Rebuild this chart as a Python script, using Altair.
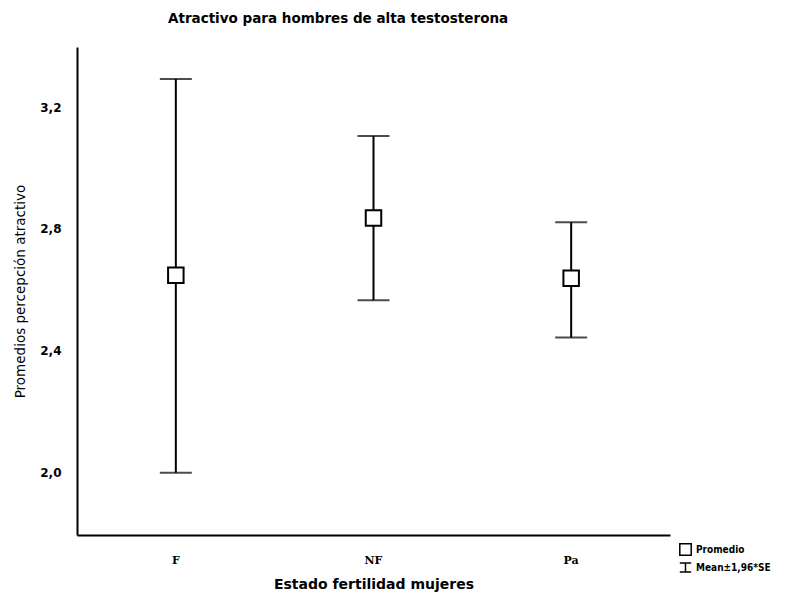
import altair as alt
import pandas as pd

categories = ["F", "NF", "Pa"]
means = [2.648, 2.836, 2.638]
upper = [3.292, 3.105, 2.822]
lower = [2.000, 2.566, 2.444]
legend_labels = ["Promedio", "Mean±1,96*SE"]

df = pd.DataFrame({
    "cat": categories,
    "mean": means,
    "hi": upper,
    "lo": lower,
    "leg": [legend_labels[0]] * len(categories),
})

ydom = [1.796, 3.397]
xenc = alt.X("cat:N", sort=categories,
             scale=alt.Scale(paddingInner=0, paddingOuter=0),
             axis=alt.Axis(title="Estado fertilidad mujeres", labelAngle=0,
                           ticks=False, domainColor="black", domainWidth=2,
                           labelFont="DejaVu Serif", labelFontWeight="bold",
                           labelFontSize=11, labelPadding=19, labelColor="black",
                           titleFont="DejaVu Sans", titleFontSize=14,
                           titleFontWeight="bold", titlePadding=12, titleColor="black"))

yscale = alt.Scale(domain=ydom, nice=False, zero=False)

base = alt.Chart(df)

rules = base.mark_rule(color="black", strokeWidth=2).encode(
    x=xenc,
    y=alt.Y("lo:Q", scale=yscale,
            axis=alt.Axis(title="Promedios percepción atractivo",
                          values=[2.0, 2.4, 2.8, 3.2],
                          labelExpr="replace(format(datum.value, '.1f'), '.', ',')",
                          ticks=False, grid=False, domainColor="black", domainWidth=2,
                          labelFont="DejaVu Sans", labelFontWeight="bold",
                          labelFontSize=12, labelPadding=16, labelColor="black",
                          titleFont="DejaVu Sans", titleFontSize=13.5,
                          titleFontWeight="normal", titlePadding=12, titleColor="black")),
    y2="hi:Q",
)

caps_hi = base.mark_tick(color="black", thickness=2, size=32, orient="horizontal").encode(
    x=alt.X("cat:N", sort=categories), y=alt.Y("hi:Q", scale=yscale))
caps_lo = base.mark_tick(color="black", thickness=2, size=32, orient="horizontal").encode(
    x=alt.X("cat:N", sort=categories), y=alt.Y("lo:Q", scale=yscale))

pts = base.mark_point(filled=True, color="white", stroke="black",
                      strokeWidth=2, size=240, opacity=1).encode(
    x=alt.X("cat:N", sort=categories),
    y=alt.Y("mean:Q", scale=yscale),
    shape=alt.Shape("leg:N",
                    scale=alt.Scale(domain=legend_labels,
                                    range=["square", "M-1,-0.8H1M0,-0.8V0.8M-1,0.8H1"]),
                    legend=alt.Legend(title=None, orient="none", legendX=602, legendY=496,
                                      labelFont="DejaVu Sans Condensed", labelFontWeight="bold",
                                      labelFontSize=10, labelColor="black",
                                      symbolSize=130, symbolStrokeWidth=1.5,
                                      rowPadding=0)),
)

chart = alt.layer(rules, caps_hi, caps_lo, pts).properties(
    width=593, height=488,
    background="white",
    title=alt.TitleParams("Atractivo para hombres de alta testosterona",
                          anchor="start", frame="group", dx=91, offset=22, fontSize=13.5,
                          font="DejaVu Sans", fontWeight="bold", color="black"),
    autosize=alt.AutoSizeParams(type="none"),
    padding={"left": 77, "top": 47, "right": 124, "bottom": 62},
).configure_view(stroke=None)

chart.save("out.html", embed_options={"renderer": "svg", "actions": False})
